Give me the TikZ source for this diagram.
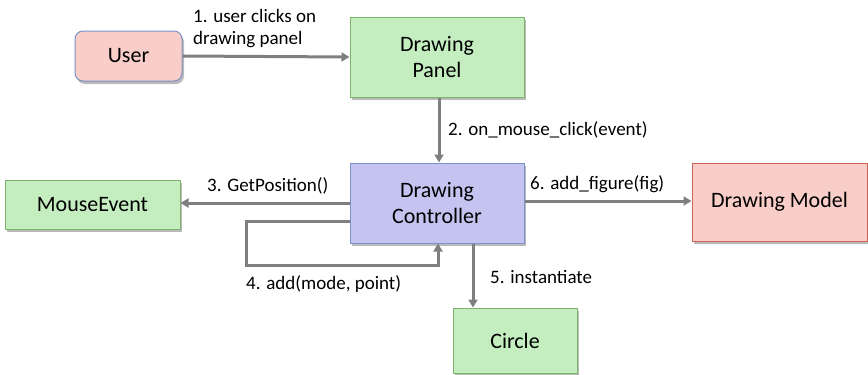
\documentclass[tikz,border=0pt]{standalone}
\usepackage{fontspec}
\setmainfont{Carlito}
\usetikzlibrary{arrows.meta,shadows}
\definecolor{gfill}{HTML}{C4EEC0}
\definecolor{gline}{HTML}{7FB26A}
\definecolor{pfill}{HTML}{F9CEC8}
\definecolor{rline}{HTML}{D0605A}
\definecolor{bline}{HTML}{7B92C8}
\definecolor{lfill}{HTML}{C5C3F0}
\definecolor{arr}{HTML}{7F7F7F}
\tikzset{
  box/.style={draw, line width=1pt, minimum width=#1, font=\fontsize{22}{26}\selectfont, align=center, inner sep=0pt,
    drop shadow={shadow xshift=2pt, shadow yshift=-3pt, opacity=0.45, fill=black!60}},
  gbox/.style={box=#1, fill=gfill, draw=gline},
  lab/.style={font=\fontsize{19}{22}\selectfont, inner sep=0pt},
  conn/.style={draw=arr, line width=3pt, -{Triangle[length=8pt,width=9pt]}},
}
\begin{document}
\begin{tikzpicture}[x=1pt,y=-1pt]
\useasboundingbox (0,0) rectangle (868,375);
\node[box=107pt, minimum height=50pt, fill=pfill, draw=bline, rounded corners=8pt] (user) at (128.5,56) {User};
\node[gbox=174pt, minimum height=80pt] (panel) at (437,57) {Drawing\\Panel};
\node[box=174pt, minimum height=80pt, fill=lfill, draw=bline] (ctrl) at (437,203) {Drawing\\Controller};
\node[gbox=175pt, minimum height=49pt] (mouse) at (92.5,204.5) {MouseEvent};
\node[box=175pt, minimum height=78pt, fill=pfill, draw=rline] (model) at (779.5,202) {Drawing Model};
\node[gbox=124pt, minimum height=65pt] (circle) at (515,340.5) {Circle};

\draw[conn] (user.east) -- (panel.west);
\node[lab, align=left, anchor=west] (l1) at (193,29) {1. user clicks on\\drawing panel};
\draw[conn] (panel.south -| 439,0) -- (ctrl.north -| 439,0);
\node[lab, anchor=west] (l2) at (448,130) {2. on\_mouse\_click(event)};
\draw[conn] (ctrl.west |- 0,203) -- (mouse.east |- 0,203);
\node[lab, anchor=west] (l3) at (207,186) {3. GetPosition()};
\coordinate (a) at (246,221);
\coordinate (b) at (246,265);
\draw[conn] (ctrl.west |- a) -- (a) -- (b) -- (b -| 438,0) -- (ctrl.south -| 438,0);
\node[lab, anchor=west] (l4) at (246,284) {4. add(mode, point)};
\draw[conn] (ctrl.south -| 473,0) -- (circle.north -| 473,0);
\node[lab, anchor=west] (l5) at (490,277) {5. instantiate};
\draw[conn] (ctrl.east |- 0,201) -- (model.west |- 0,201);
\node[lab, anchor=west] (l6) at (530,184) {6. add\_figure(fig)};
\end{tikzpicture}
\end{document}
